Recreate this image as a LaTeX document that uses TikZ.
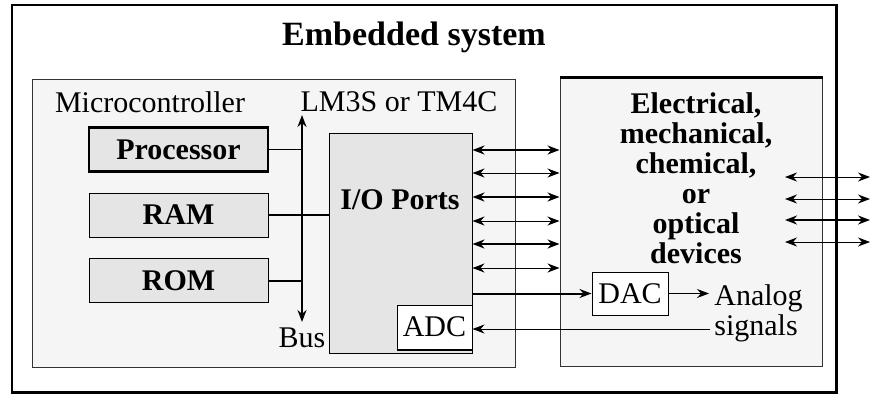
\documentclass[tikz,border=0pt]{standalone}
\usepackage{fontspec}
\setmainfont{Liberation Serif}
\usetikzlibrary{shapes,arrows,arrows.meta,positioning}
\newcommand{\txt}{\fontsize{15}{15}\selectfont}
\tikzstyle{boxframe} = [rectangle, draw=black!80, fill=black!4, line width=0.5pt, inner sep=0pt]
\tikzstyle{block} = [rectangle, draw, fill=black!10, line width=0.5pt,
    minimum width=89.5pt, minimum height=22pt, inner sep=0pt, font=\txt\bfseries]
\tikzstyle{conv} = [rectangle, draw, fill=white, line width=0.5pt,
    minimum width=37.5pt, minimum height=22pt, inner sep=0pt]

\begin{document}
\begin{tikzpicture}[x=0.5pt, y=-0.5pt, >={Stealth[length=6pt,width=4.5pt]},
    every node/.style={font=\txt}]
	\useasboundingbox (0,0) rectangle (881,413);
	% frames
	\node [rectangle, draw, line width=0.7pt, minimum width=412pt, minimum height=193.5pt] (sys) at (424,198.5) {};
	\draw [line width=1.4pt] (sys.north east) -- (sys.south east) -- (sys.south west);
	\node [font=\fontsize{17}{17}\selectfont\bfseries] (title) at (414,37) {Embedded system};
	\node [boxframe, minimum width=241.5pt, minimum height=144pt] (mcu) at (273.5,223) {};
	\node [boxframe, minimum width=131pt, minimum height=144pt] (dev) at (691,222) {};
	\draw [line width=1.2pt] (dev.north west) -- (dev.north east);
	\node (mculabel) at (150,102) {Microcontroller};
	\node (part) at (399,102) {LM3S or TM4C};
	% memory side
	\node [block, line width=1.2pt] (proc) at (178.5,149.5) {Processor};
	\node [block, below of=proc, node distance=32.75pt] (ram) {RAM};
	\node [block, below of=ram, node distance=32.75pt] (rom) {ROM};
	\node [block, minimum width=71.5pt, minimum height=110pt] (io) at (400.5,243) {};
	\node [font=\txt\bfseries] (iolabel) at (400,200) {I/O Ports};
	\node [conv, anchor=south east] (adc) at ([yshift=2pt]io.south east) {ADC};
	\draw [line width=1pt] (adc.south west) -- (adc.south east);
	\node [conv, minimum width=38pt, minimum height=21.5pt] (dac) at (630,293.5) {DAC};
	\node [font=\txt\bfseries, align=center] (devtext) at (696,178) {Electrical,\\mechanical,\\chemical,\\or\\optical\\devices};
	\node [anchor=west, align=left, inner sep=0pt] (analog) at (714,313) {Analog\\signals};
	% bus
	\coordinate (bustop) at (302,115);
	\coordinate (busbot) at (302,322);
	\node [below of=busbot, node distance=8pt] (bus) {Bus};
	\coordinate (dacout) at (709,293.5);
	\coordinate (adcin) at (710,329);
	\coordinate (ext1a) at (785,177); \coordinate (ext1b) at (870,177);
	\coordinate (ext2a) at (785,199); \coordinate (ext2b) at (870,199);
	\coordinate (ext3a) at (785,220); \coordinate (ext3b) at (870,220);
	\coordinate (ext4a) at (785,242); \coordinate (ext4b) at (870,242);

        \draw [<->, line width=0.8pt] (bustop) -- (busbot);
        \draw [line width=0.5pt] (proc.east) -- (proc.east -| bustop);
        \draw [line width=1pt] (ram.east) -- (ram.east -| io.west);
        \draw [line width=1pt] (rom.east) -- (rom.east -| bustop);
        \draw [<->, line width=1pt] (io.east |- 0,150) -- (dev.west |- 0,150);
        \draw [<->, line width=0.5pt] (io.east |- 0,173) -- (dev.west |- 0,173);
        \draw [<->, line width=1pt] (io.east |- 0,197) -- (dev.west |- 0,197);
        \draw [<->, line width=0.5pt] (io.east |- 0,221) -- (dev.west |- 0,221);
        \draw [<->, line width=1pt] (io.east |- 0,244) -- (dev.west |- 0,244);
        \draw [<->, line width=0.5pt] (io.east |- 0,268) -- (dev.west |- 0,268);
        \draw [->, line width=1pt] (io.east |- dac.west) -- (dac.west);
        \draw [->, line width=0.5pt] (dac.east) -- (dacout);
        \draw [->, line width=0.5pt] (adcin) -- (adcin -| adc.east);
        \draw [<->, line width=0.5pt] (ext1a) -- (ext1b);
        \draw [<->, line width=0.5pt] (ext2a) -- (ext2b);
        \draw [<->, line width=1pt] (ext3a) -- (ext3b);
        \draw [<->, line width=0.5pt] (ext4a) -- (ext4b);
\end{tikzpicture}
\end{document}
